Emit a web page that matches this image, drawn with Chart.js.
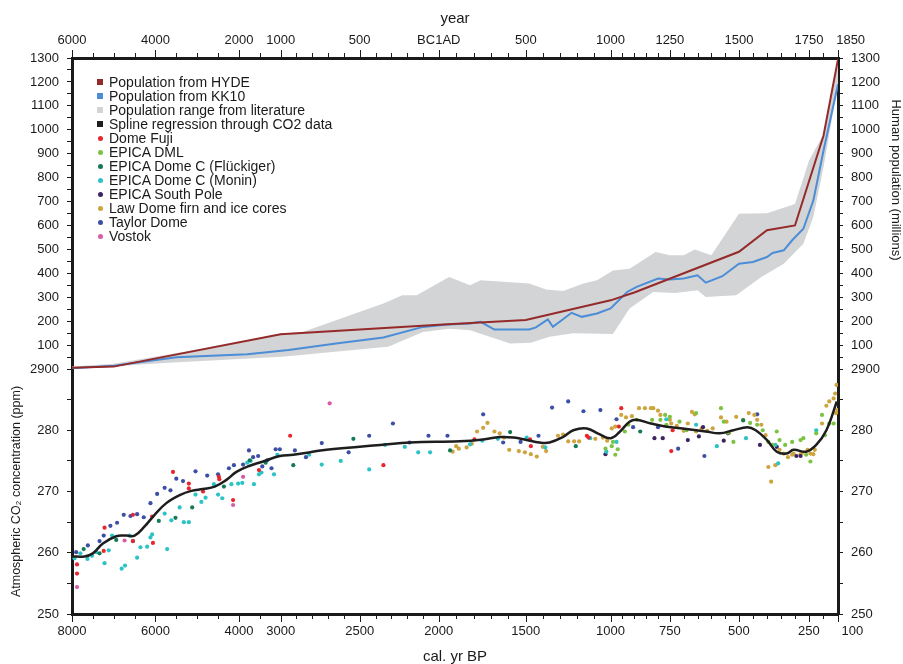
<!DOCTYPE html>
<html>
<head>
<meta charset="utf-8">
<script src="https://cdn.jsdelivr.net/npm/chart.js@4.4.1/dist/chart.umd.min.js"></script>
<style>
body{margin:0;background:#fff}
#marco{position:relative;width:903px;height:664px}
#leyenda{position:absolute;left:97px;top:75px;font:14px 'Liberation Sans',Arial,sans-serif;line-height:14px;color:#1a1a1a}
#leyenda div{display:flex;align-items:center;white-space:nowrap}
#leyenda span.cuadro{display:inline-block;width:6px;height:6px;margin-right:6px}
#leyenda span.punto{display:inline-block;width:5px;height:5px;border-radius:50%;margin:0 6px 0 1px}
</style>
</head>
<body>
<div id="marco">
<canvas id="myChart" width="903" height="664"></canvas>
<div id="leyenda"></div>
</div>
<script>
// eje x: año (negativo = a.C.)
const marcasAnio=[-6000,-4000,-2000,-1000,-500,0,500,1000,1250,1500,1750,1850]
const etiquetasAnio=['6000','4000','2000','1000','500','BC1AD','500','1000','1250','1500','1750','1850']
const etiquetasBP=['8000','6000','4000','3000','2500','2000','1500','1000','750','500','250','100']

// el eje no es lineal: fraccion del ancho en cada quiebre
const tramosAnio=[-6000,-1000,-500,0,500,1000,1250,1500,1750,1850]
const tramosFrac=[0,0.2724,0.3756,0.4788,0.5924,0.7031,0.7805,0.8707,0.9621,1]

// poblacion (millones)
const hydeAnio=[-6000,-5000,-1000,0,500,1000,1100,1500,1600,1700,1800,1850]
const hydePob=[5,10,145,185,205,287,320,490,580,600,975,1295]

const kk10Anio=[-6000,-5000,-3500,-1800,-950,-650,-350,-100,50,180,240,320,410,520,560,630,660,770,830,920,1000,1070,1110,1200,1250,1300,1350,1380,1440,1500,1550,1600,1620,1660,1690,1730,1765,1800,1850]
const kk10Pob=[3,14,49,62,79,107,132,176,186,190,197,165,165,165,174,207,176,235,218,232,253,322,343,378,374,378,392,361,388,440,447,468,485,496,538,586,704,912,1190]

const rangoAltoAnio=[-6000,-5000,-3000,-1000,-860,-350,-230,-140,60,180,240,520,620,720,840,920,1010,1080,1190,1250,1300,1340,1400,1500,1600,1700,1750,1800,1850]
const rangoAlto=[10,22,82,148,155,274,308,308,385,350,371,357,332,326,357,371,412,419,489,475,475,499,475,649,651,690,871,982,1300]
const rangoBajoAnio=[-6000,-3680,-990,-440,-320,-100,60,180,410,530,640,780,1010,1080,1180,1270,1350,1380,1490,1580,1660,1730,1765,1800,1850]
const rangoBajo=[0,26,51,86,93,155,168,162,107,110,135,149,146,253,322,318,329,301,308,385,440,524,635,843,1190]

// CO2 (ppm)
const splineAnio=[-6000,-5700,-5500,-5260,-4940,-4700,-4500,-4260,-4020,-3740,-3420,-3140,-2860,-2580,-2300,-2060,-1740,-1420,-1020,-920,-710,-500,-370,-180,120,255,350,430,505,580,640,720,780,860,930,1000,1040,1080,1110,1170,1230,1310,1380,1430,1480,1530,1560,1600,1635,1670,1695,1740,1775,1810,1846]
const splineCO2=[259.4,259.4,259.9,261.5,262.7,262.8,262.8,264.3,266.2,268.1,269.4,270.1,270.4,270.8,271.9,273.2,274.2,274.9,275.8,276.0,276.8,277.3,277.6,278.0,278.2,278.5,278.9,278.8,278.4,278.0,278.0,278.9,280.0,280.3,279.4,278.7,279.8,281.4,281.7,281.1,280.6,280.2,279.8,279.5,280.0,280.5,280.0,278.4,276.5,276.2,276.8,276.5,277.6,280.0,284.7]

const fujiAnio=[-5880,-5880,-5240,-5220,-4540,-4540,-4080,-4060,-3580,-3200,-3200,-2860,-2480,-2470,-2140,-1520,-940,-350,205,525,530,860,870,1035,1045,1255,1260]
const fujiCO2=[258.1,256.6,260.3,264.1,266.2,261.9,265.9,261.6,273.2,271.3,270.5,270.0,272.4,272.0,268.6,273.5,279.1,274.3,278.5,278.5,277.4,279.1,278.8,280.6,283.6,276.6,280.0]

const dmlAnio=[970,1005,1010,1020,1030,1060,1075,1110,1175,1210,1230,1235,1250,1285,1310,1345,1435,1445,1460,1480,1540,1565,1585,1605,1620,1635,1645,1665,1690,1720,1730,1740,1755,1775,1795,1805,1820,1835]
const dmlCO2=[277.0,277.4,278.1,276.0,276.9,279.8,280.9,281.7,281.7,281.7,282.5,280.9,282.2,281.4,280.0,282.8,283.6,281.4,279.6,278.1,281.2,280.9,280.0,278.1,277.6,279.8,278.4,277.6,278.1,278.4,278.7,276.0,274.9,279.5,282.5,279.2,281.1,281.1]

const fluckAnio=[-5720,-5340,-4940,-4540,-3920,-3520,-3120,-2360,-1740,-1360,-920,-540,65,410,795,1125,1515]
const fluckCO2=[260.6,259.9,262.1,261.9,265.2,265.7,267.4,270.8,275.1,274.7,274.3,278.6,276.7,279.7,277.4,279.8,281.6]

const moninAnio=[-5940,-5800,-5630,-5520,-5420,-5220,-5120,-5040,-4810,-4730,-4620,-4440,-4360,-4200,-4120,-4080,-3780,-3720,-3620,-3420,-3320,-3200,-3040,-2900,-2800,-2600,-2500,-2400,-2180,-2020,-1920,-1800,-1720,-1640,-1520,-1460,-1160,-1080,-820,-740,-620,-440,-340,-215,-130,-55,180,250,340,505,615,880,975,1025,1235,1345,1420,1525,1630,1640,1775]
const moninCO2=[259.1,259.9,259.0,259.5,260.1,258.3,260.4,262.8,257.4,257.9,262.8,259.2,260.9,261.0,262.5,263.0,266.4,260.6,265.3,267.4,265.0,265.0,269.5,268.3,269.0,271.2,269.5,268.9,271.2,271.3,271.4,274.7,275.0,271.2,272.8,273.1,272.8,276.0,276.0,274.4,275.0,273.6,277.6,277.3,276.4,276.4,277.7,278.3,278.6,278.8,277.2,278.7,276.5,278.1,281.8,280.9,277.4,278.7,277.6,274.6,280.0]

const poloAnio=[970,1185,1220,1315,1355,1370,1445,1460,1575,1635,1705,1720]
const poloCO2=[276.1,278.7,278.7,278.4,279.0,280.5,278.3,279.5,277.6,277.3,275.8,275.8]

const lawAnio=[80,100,115,160,190,220,255,280,320,350,375,405,460,495,530,565,600,620,690,720,750,785,815,910,955,980,1005,1020,1045,1065,1090,1120,1145,1170,1180,1200,1210,1250,1255,1275,1300,1315,1330,1340,1345,1365,1385,1405,1435,1455,1465,1490,1515,1535,1555,1565,1580,1595,1605,1615,1630,1645,1660,1675,1690,1695,1720,1725,1745,1755,1765,1770,1795,1810,1820,1835,1840,1845,1843,1848]
const lawCO2=[276.5,277.4,277.0,277.2,277.8,279.8,280.4,281.2,279.8,279.5,278.8,276.8,276.6,276.4,276.1,275.7,277.3,276.6,279.1,279.3,278.2,278.2,278.2,278.6,278.8,278.3,280.3,280.6,282.5,282.1,282.3,283.6,283.6,283.6,283.6,283.2,282.5,281.7,281.1,280.7,279.9,281.1,283.0,282.6,279.8,280.3,279.9,280.3,282.1,281.4,279.6,282.2,281.7,282.8,282.5,281.7,280.9,279.2,274.0,271.6,274.3,276.8,276.2,275.6,276.0,276.2,276.1,276.3,276.8,276.2,276.1,276.8,281.1,284.0,284.7,285.2,286.0,287.4,282.8,283.3]

const taylorAnio=[-5900,-5620,-5340,-5240,-5080,-4920,-4760,-4600,-4440,-4280,-4120,-3960,-3780,-3640,-3500,-3340,-3040,-2760,-2500,-2240,-2120,-1900,-1760,-1660,-1540,-1440,-1320,-1220,-1120,-1020,-910,-840,-740,-570,-440,-290,-185,-65,50,255,370,470,575,655,750,840,940,1025,1095,1200,1280,1375,1565]
const taylorCO2=[260.1,261.2,261.9,262.8,264.4,264.9,266.2,266.0,266.3,265.8,268.1,269.6,270.6,270.2,272.1,271.7,273.3,272.6,272.8,273.8,274.3,274.4,276.7,275.6,275.8,274.1,275.1,273.8,276.9,276.9,276.7,275.6,277.9,276.4,279.1,281.1,278.0,279.1,279.1,282.6,278.0,278.1,279.1,283.7,284.7,283.1,283.3,281.8,280.5,280.5,277.0,275.8,282.6]

const vostokAnio=[-5880,-4740,-2140,-1900,-690]
const vostokCO2=[254.4,262.0,267.8,272.4,284.4]

const colores={hyde:'#952a2a',kk10:'#4b8dd6',rango:'#d3d4d6',spline:'#1e1e1e'}

// series de puntos: nombre, color, años, valores
const seriesPuntos=[
    ['Dome Fuji','#e8262e',fujiAnio,fujiCO2],
    ['EPICA DML','#7cc243',dmlAnio,dmlCO2],
    ['EPICA Dome C (Flückiger)','#137a55',fluckAnio,fluckCO2],
    ['EPICA Dome C (Monin)','#2cc3c6',moninAnio,moninCO2],
    ['EPICA South Pole','#3d2460',poloAnio,poloCO2],
    ['Law Dome firn and ice cores','#cda43e',lawAnio,lawCO2],
    ['Taylor Dome','#3c4fa5',taylorAnio,taylorCO2],
    ['Vostok','#d75ca8',vostokAnio,vostokCO2]
]

function fraccion(v){
    let i=0
    while(i<tramosAnio.length-2 && v>tramosAnio[i+1]) i++
    const a=tramosAnio[i], b=tramosAnio[i+1]
    return tramosFrac[i]+(v-a)/(b-a)*(tramosFrac[i+1]-tramosFrac[i])
}

function anioDesde(f){
    let i=0
    while(i<tramosFrac.length-2 && f>tramosFrac[i+1]) i++
    const a=tramosFrac[i], b=tramosFrac[i+1]
    return tramosAnio[i]+(f-a)/(b-a)*(tramosAnio[i+1]-tramosAnio[i])
}

// escala lineal con tramos
class EscalaAnios extends Chart.LinearScale{
    getPixelForValue(v){ return this.getPixelForDecimal(fraccion(v)) }
    getValueForPixel(p){ return anioDesde(this.getDecimalForPixel(p)) }
}
EscalaAnios.id='anios'
EscalaAnios.defaults=Chart.LinearScale.defaults
Chart.register(EscalaAnios)

function todasLasMarcas(){
    let arr=[]
    for(let a=-6000;a<=-2000;a+=500) arr.push(a)
    arr.push(-1500)
    for(let a=-1000;a<=1000;a+=100) arr.push(a)
    for(let a=1050;a<=1850;a+=50) arr.push(a)
    return arr.sort((p,q)=>p-q)
}

function ponerMarcas(escala){
    escala.ticks=todasLasMarcas().map(v=>({value:v, major:marcasAnio.includes(v)}))
}

// la ultima etiqueta va corrida a la derecha, como en el original
function etiqueta(lista,v,espacios){
    const i=marcasAnio.indexOf(v)
    if(i<0) return ''
    if(i===marcasAnio.length-1) return espacios+lista[i]
    return lista[i]
}

function unir(xs,ys){
    return xs.map((x,i)=>({x:x, y:ys[i]}))
}

// marcas del eje x, largas y cortas + titulo derecho
const marcasX={
    id:'marcasX',
    afterDraw(chart){
        const ctx=chart.ctx
        ctx.save()
        ctx.strokeStyle='#1a1a1a'
        ctx.lineWidth=1
        ;[['xTop',-1],['x',1]].forEach(([id,dir])=>{
            const s=chart.scales[id]
            const borde=dir<0 ? s.bottom : s.top
            s.ticks.forEach(t=>{
                const px=Math.round(s.getPixelForValue(t.value))+0.5
                const largo=t.major ? 8 : 5
                ctx.beginPath()
                ctx.moveTo(px,borde)
                ctx.lineTo(px,borde+dir*largo)
                ctx.stroke()
            })
        })
        // titulo del eje de poblacion
        ctx.translate(896,180)
        ctx.rotate(Math.PI/2)
        ctx.fillStyle='#1a1a1a'
        ctx.font="13px 'Liberation Sans', Arial, sans-serif"
        ctx.textAlign='center'
        ctx.textBaseline='middle'
        ctx.fillText('Human population (millions)',0,0)
        ctx.restore()
    }
}

Chart.defaults.font.family="'Liberation Sans', Arial, sans-serif"
Chart.defaults.color='#1a1a1a'

function ejeY(lado,min,max,paso,cada,peso,alto,ancho,textoBorde){
    return {
        type:'linear', position:lado, stack:lado, stackWeight:alto, weight:peso,
        min:min, max:max,
        afterFit:s=>{ s.width=ancho },
        ticks:{stepSize:paso, autoSkip:false, padding:8, font:{size:13}, color:'#1a1a1a',
            callback:v=>{
                if(v%cada!==0) return ''
                if(textoBorde && textoBorde[v]!==undefined) return textoBorde[v]
                return String(v)
            }},
        grid:{display:true, drawOnChartArea:false, drawTicks:true, tickLength:5, tickColor:'#1a1a1a', tickWidth:1},
        border:{display:true, width:3, color:'#1a1a1a'}
    }
}

// order: el numero mas bajo se dibuja encima
const datasets=[
    {type:'line', label:'rango bajo', data:unir(rangoBajoAnio,rangoBajo), yAxisID:'yPop', order:20,
        borderWidth:0, pointRadius:0, fill:false, backgroundColor:colores.rango, borderColor:colores.rango},
    {type:'line', label:'Population range from literature', data:unir(rangoAltoAnio,rangoAlto), yAxisID:'yPop', order:19,
        borderWidth:0, pointRadius:0, fill:'-1', backgroundColor:colores.rango, borderColor:colores.rango},
    {type:'line', label:'Population from KK10', data:unir(kk10Anio,kk10Pob), yAxisID:'yPop', order:4,
        borderColor:colores.kk10, borderWidth:2, pointRadius:0, fill:false, tension:0},
    {type:'line', label:'Population from HYDE', data:unir(hydeAnio,hydePob), yAxisID:'yPop', order:3,
        borderColor:colores.hyde, borderWidth:2, pointRadius:0, fill:false, tension:0}
]

seriesPuntos.forEach(s=>{
    datasets.push({type:'scatter', label:s[0], data:unir(s[2],s[3]), yAxisID:'yCO2', order:10,
        backgroundColor:s[1], borderWidth:0, pointRadius:2.1, showLine:false})
})

datasets.push({type:'line', label:'Spline regression through CO2 data', data:unir(splineAnio,splineCO2), yAxisID:'yCO2', order:1,
    borderColor:colores.spline, borderWidth:2.5, pointRadius:0, fill:false, tension:0.4})

const ctx=document.getElementById('myChart')

const mychart=new Chart(ctx,{
    type:'line',
    data:{datasets:datasets},
    plugins:[marcasX],
    options:{
        responsive:false,
        animation:false,
        layout:{padding:0},
        plugins:{legend:{display:false}, tooltip:{enabled:false}},
        scales:{
            x:{
                type:'anios', position:'bottom', min:-6000, max:1850,
                afterBuildTicks:ponerMarcas,
                afterFit:s=>{ s.height=50 },
                grid:{display:false, drawTicks:false},
                border:{display:true, width:3, color:'#1a1a1a'},
                ticks:{autoSkip:false, maxRotation:0, padding:10, font:{size:13},
                    callback:v=>etiqueta(etiquetasBP,v,'        ')},
                title:{display:true, text:'cal. yr BP', font:{size:15, lineHeight:1}, padding:{top:0,bottom:0}}
            },
            xTop:{
                type:'anios', position:'top', min:-6000, max:1850,
                afterBuildTicks:ponerMarcas,
                afterFit:s=>{ s.height=58 },
                grid:{display:false, drawTicks:false},
                border:{display:true, width:3, color:'#1a1a1a'},
                ticks:{autoSkip:false, maxRotation:0, padding:10, font:{size:13},
                    callback:v=>etiqueta(etiquetasAnio,v,'       ')},
                title:{display:true, text:'year', font:{size:15}, padding:{top:10,bottom:0}}
            },
            yPop:ejeY('left',0,1300,50,100,2,311,72),
            yCO2:Object.assign(ejeY('left',250,290,5,10,1,245,72,{290:'290  '}),{
                title:{display:true, text:'Atmospheric CO\u2082 concentration (ppm)', font:{size:12.5}, padding:{top:9,bottom:0}}
            }),
            yPopR:ejeY('right',0,1300,50,100,1,311,65,{0:'      0'}),
            yCO2R:ejeY('right',250,290,5,10,2,245,65)
        }
    }
})

// leyenda en html sobre el grafico
const itemsLeyenda=[
    ['Population from HYDE',colores.hyde,'cuadro'],
    ['Population from KK10',colores.kk10,'cuadro'],
    ['Population range from literature',colores.rango,'cuadro'],
    ['Spline regression through CO2 data',colores.spline,'cuadro']
].concat(seriesPuntos.map(s=>[s[0],s[1],'punto']))

function armarLeyenda(){
    const caja=document.getElementById('leyenda')
    itemsLeyenda.forEach(it=>{
        const fila=document.createElement('div')
        const m=document.createElement('span')
        m.className=it[2]
        m.style.background=it[1]
        fila.appendChild(m)
        fila.appendChild(document.createTextNode(it[0]))
        caja.appendChild(fila)
    })
}
armarLeyenda()
</script>
</body>
</html>
